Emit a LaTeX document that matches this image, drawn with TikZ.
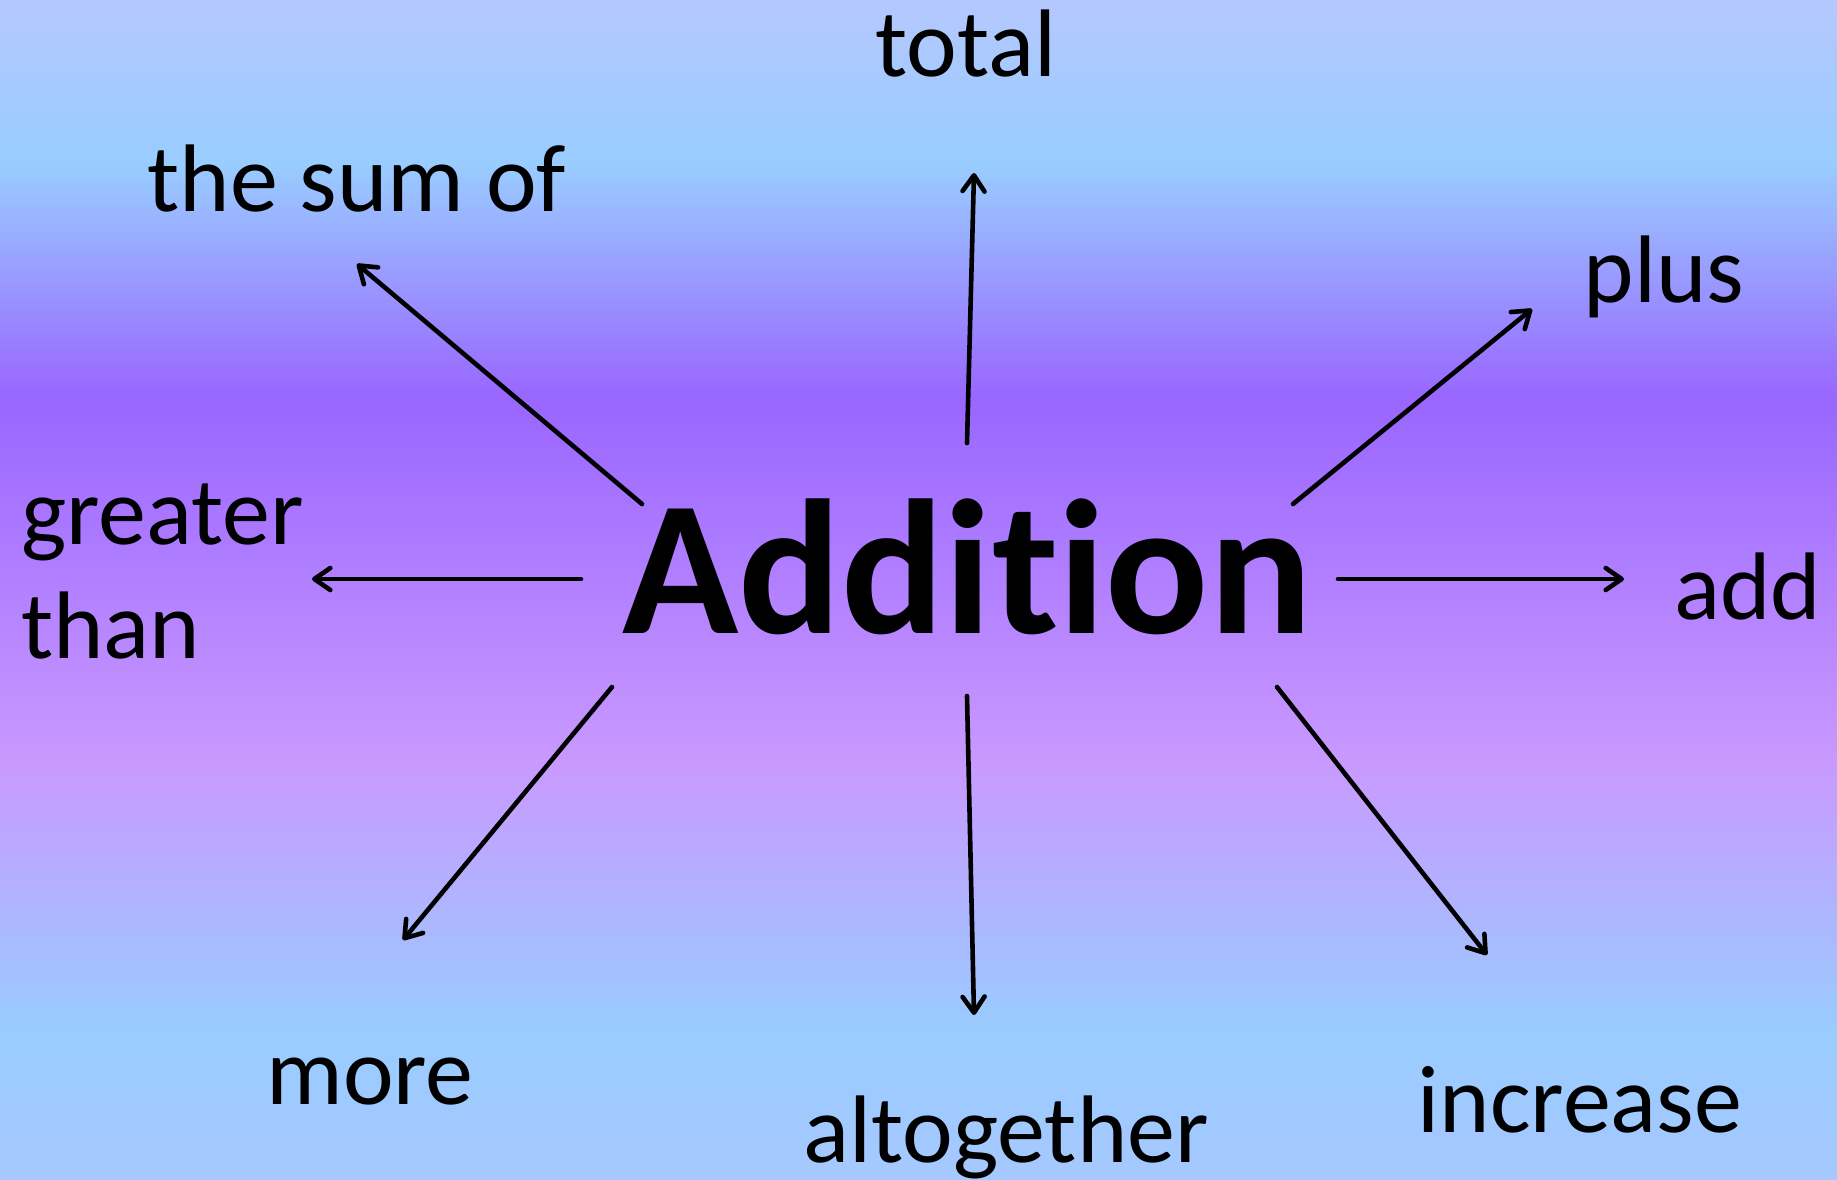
\documentclass[tikz,border=0pt]{standalone}
\usepackage{fontspec}
\setmainfont{Carlito}[RawFeature=-liga]
\usetikzlibrary{arrows.meta}
\definecolor{cTop}{HTML}{B4C8FE}
\definecolor{cBlue}{HTML}{99CCFF}
\definecolor{cPur}{HTML}{9966FF}
\definecolor{cLav}{HTML}{C999FF}
\definecolor{cBot}{HTML}{A6C8FF}
\pgfdeclareverticalshading{bgshade}{100bp}{color(0bp)=(cBot); color(25bp)=(cBot); color(31.28bp)=(cBlue); color(42.68bp)=(cLav); color(58.12bp)=(cPur); color(68.04bp)=(cBlue); color(75bp)=(cTop); color(100bp)=(cTop)}
\begin{document}
\begin{tikzpicture}[x=0.5pt,y=-0.5pt,
  lbl/.style={inner sep=0pt, anchor=base, font=\fontsize{48}{57}\selectfont},
  arr/.style={line width=2.3pt, line cap=round, -{Straight Barb[length=8pt,width=11pt,line cap=round,line join=round]}}]
\shade[shading=bgshade] (0,0) rectangle (1837,1179);
\useasboundingbox (0,0) rectangle (1837,1179);
\node[inner sep=0pt, anchor=base, font=\bfseries\fontsize{96}{110}\selectfont] (addition) at (967,633) {Addition};
\node[lbl] (total) at (966,76) {total};
\node[lbl] (sumof) at (357,211) {the sum of};
\node[lbl] (plus) at (1664,302) {plus};
\node[lbl] (add) at (1748,619) {add};
\node[lbl] (more) at (370,1104) {more};
\node[lbl] (altogether) at (1006,1162) {altogether};
\node[lbl] (increase) at (1580,1132) {increase};
\node[lbl, anchor=base west, align=left] (greater) at (21,658) {greater\\than};
\coordinate (s1) at (967,443); \coordinate (e1) at (974,173);
\coordinate (s2) at (642,504); \coordinate (e2) at (357,264);
\coordinate (s3) at (1293,504); \coordinate (e3) at (1532,309);
\coordinate (s4) at (581,579); \coordinate (e4) at (312,579);
\coordinate (s5) at (1338,579); \coordinate (e5) at (1624,579);
\coordinate (s6) at (612,687); \coordinate (e6) at (403,940);
\coordinate (s7) at (967,696); \coordinate (e7) at (974,1015);
\coordinate (s8) at (1277,687); \coordinate (e8) at (1487,955);
\foreach \i in {1,...,8} \draw[arr] (s\i) -- (e\i);
\end{tikzpicture}
\end{document}
